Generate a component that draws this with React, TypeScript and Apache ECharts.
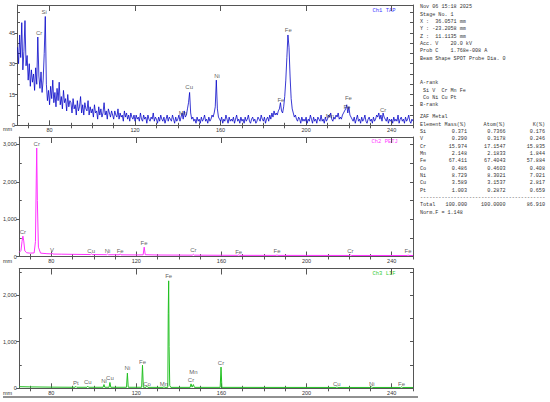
import React, { useEffect, useRef } from 'react';
import * as echarts from 'echarts';

// ---------- axes ----------
const X_MIN = 65;
const X_MAX = 250;
const X_LABELS = [80, 120, 160, 200, 240];
const X_MINOR = [70, 90, 100, 110, 130, 140, 150, 170, 180, 190, 210, 220, 230, 250];

const TAP_MAX = 58.6;
const TAP_Y_LABELS = [0, 15, 30, 45];
const TAP_Y_MINOR = [5, 10, 20, 25, 35, 40, 50, 55];

const PETJ_MAX = 3200;
const PETJ_Y_LABELS = [0, 1000, 2000, 3000];
const PETJ_Y_MINOR = [500, 1500, 2500];

const LIF_MAX = 2570;
const LIF_Y_LABELS = [0, 1000, 2000];
const LIF_Y_MINOR = [500, 1500, 2500];

// ---------- Ch1 TAP spectrum (counts every 0.5 mm from 65 mm) ----------
const TAP_START = 65;
const TAP_STEP = 0.5;
const TAP_COUNTS = [
  38, 30, 44, 33, 50, 27, 36, 51, 29, 34,
  22, 30, 19, 27, 21, 25, 17, 28, 20, 43, 24, 18, 26, 16, 22, 35, 53, 20, 12, 17,
  10, 19, 13, 22, 11, 16, 9, 18, 12, 21, 10, 14, 8, 17, 11, 13, 7, 15, 9, 12,
  11, 6, 13, 8, 10, 5, 12, 7, 9, 14, 6, 10, 5, 11, 8, 7, 12, 5, 9, 6,
  8, 4, 10, 6, 7, 3, 9, 5, 8, 4, 6, 11, 5, 7, 3, 8, 6, 4, 7, 5,
  3, 7, 5, 4, 8, 3, 6, 4, 5, 2, 7, 4, 6, 3, 5, 2, 6, 4, 3, 5,
  2, 5, 3, 4, 2, 6, 3, 2, 5, 3, 4, 1, 5, 3, 2, 4, 3, 6, 2, 4,
  3, 1, 4, 2, 5, 3, 2, 4, 1, 3, 5, 2, 4, 3, 2, 5, 3, 1, 4, 2,
  3, 5, 2, 4, 6, 3, 7, 4, 5, 8, 11, 16, 6, 3, 4, 2, 3, 1, 4, 2,
  3, 1, 4, 2, 3, 5, 2, 3, 1, 4, 2, 3, 5, 4, 6, 9, 22, 8, 4, 3,
  2, 4, 1, 3, 2, 5, 3, 1, 4, 2, 3, 2, 4, 1, 3, 5, 2, 3, 1, 4,
  2, 3, 1, 4, 2, 3, 5, 2, 1, 3, 4, 2, 3, 1, 2, 4, 3, 2, 5, 3,
  2, 4, 1, 3, 4, 2, 5, 3, 6, 4, 7, 5, 6, 5, 7, 8, 11, 7, 6, 9,
  14, 22, 33, 44, 38, 24, 13, 8, 6, 4, 5, 3, 2, 4, 3, 1, 4, 2, 3, 2,
  4, 1, 3, 2, 5, 3, 1, 4, 2, 3, 1, 4, 3, 2, 5, 2, 3, 1, 4, 2,
  3, 5, 4, 6, 3, 2, 4, 3, 5, 4, 6, 3, 4, 3, 5, 6, 7, 8, 10, 6,
  9, 5, 4, 3, 2, 4, 1, 3, 5, 2, 3, 1, 4, 2, 3, 5, 2, 1, 3, 4,
  2, 3, 1, 4, 2, 3, 5, 4, 6, 3, 5, 2, 6, 4, 3, 2, 4, 1, 3, 2,
  3, 1, 4, 2, 3, 2, 5, 1, 3, 4, 2, 3, 1, 4, 2, 3, 5, 2, 1, 3,
  2,
];

// ---------- Ch2 PETJ spectrum [mm, counts] ----------
const PETJ_SPECTRUM: [number, number][] = [
  [65, 110], [65.8, 160], [66.3, 400], [66.7, 545], [67.1, 420], [67.6, 150], [68.5, 100],
  [70, 90], [72, 95], [72.6, 400], [73.0, 2100], [73.2, 2905], [73.5, 1500], [74.0, 250],
  [75, 90], [78, 75], [80, 70], [80.4, 90], [80.8, 65], [85, 62], [90, 58],
  [98.5, 52], [98.9, 72], [99.3, 52], [106.1, 48], [106.5, 68], [106.9, 48],
  [112.0, 46], [112.4, 72], [112.8, 45], [120, 42], [123.2, 45], [123.7, 250], [124.2, 48],
  [130, 40], [146.3, 36], [146.8, 60], [147.3, 36], [160, 33], [167.7, 31], [168.1, 45], [168.5, 31],
  [185.7, 30], [186.1, 44], [186.5, 30], [200, 29], [220.2, 28], [220.6, 42], [221.0, 28],
  [247.3, 27], [247.7, 40], [248.1, 27], [250, 27],
];

// ---------- Ch3 LIF spectrum [mm, counts] ----------
const LIF_SPECTRUM: [number, number][] = [
  [65, 35], [70, 30], [80, 25], [91.2, 22], [91.6, 40], [92.0, 22], [96.8, 22], [97.2, 45], [97.6, 22],
  [104.4, 22], [104.8, 80], [105.2, 22], [107.2, 22], [107.6, 125], [108.0, 22],
  [115.4, 22], [115.8, 325], [116.2, 22], [122.5, 22], [122.9, 495], [123.3, 22],
  [124.6, 22], [125.0, 45], [125.4, 20], [132.6, 20], [133.0, 35], [133.4, 20],
  [134.8, 20], [135.0, 1600], [135.2, 2305], [135.4, 900], [135.7, 60], [136.2, 20],
  [145.3, 20], [145.7, 95], [146.2, 25], [146.8, 80], [147.3, 20],
  [159.4, 20], [159.8, 455], [160.2, 20], [214.0, 18], [214.2, 32], [214.6, 18],
  [230.2, 18], [230.6, 30], [231.0, 18], [244.2, 18], [244.6, 30], [245.0, 18], [250, 18],
];

// ---------- peak labels [element, mm, counts] ----------
const TAP_PEAKS: [string, number, number][] = [
  ['Si', 77.5, 53], ['Cr', 75.1, 43], ['Mn', 142.4, 4], ['Cu', 145.3, 16.5], ['Ni', 158.3, 22],
  ['Fe', 188.2, 10.5], ['Fe', 191.7, 44.5], ['Mn', 211.1, 2.5], ['Fe', 219.8, 11.5],
  ['Fe', 219.1, 7], ['Cr', 236, 5.5],
];
const PETJ_PEAKS: [string, number, number][] = [
  ['Cr', 66.7, 545], ['Cr', 73.2, 2900], ['V', 80.4, 67], ['Cu', 98.8, 48], ['Ni', 106.5, 48],
  ['Fe', 112.4, 48], ['Fe', 123.6, 260], ['Cr', 146.8, 75], ['Fe', 168.1, 25], ['Fe', 186.1, 30],
  ['Cr', 220.6, 30], ['Fe', 247.7, 30],
];
const LIF_PEAKS: [string, number, number][] = [
  ['Pt', 91.6, 21], ['Cu', 97.2, 43], ['Ni', 104.8, 71], ['Cu', 107.6, 142], ['Ni', 115.8, 343],
  ['Fe', 122.9, 485], ['Co', 125.0, 13], ['Mn', 133.0, 13], ['Fe', 135.2, 2320], ['Mn', 146.8, 258],
  ['Cr', 145.7, 99], ['Cr', 159.8, 457], ['Cu', 214.2, 8], ['Ni', 230.6, 8], ['Fe', 244.6, 8],
];

// ---------- side text ----------
const INFO_LINES = [
  'Nov 06 15:18 2025',
  'Stage No. 1',
  'X :  36.0571 mm',
  'Y : -23.2058 mm',
  'Z :  11.1135 mm',
  'Acc. V    20.0 kV',
  'Prob C    1.768e-008 A',
  'Beam Shape SPOT Probe Dia. 0',
];
const RANK_LINES = ['A-rank', ' Si V  Cr Mn Fe', ' Co Ni Cu Pt', 'B-rank'];
const ELEMENTS = ['Si', 'V', 'Cr', 'Mn', 'Fe', 'Co', 'Ni', 'Cu', 'Pt'];
const MASS = ['0.371', '0.290', '15.974', '2.148', '67.411', '0.486', '8.729', '3.589', '1.003'];
const ATOM = ['0.7366', '0.3178', '17.1547', '2.1833', '67.4043', '0.4603', '8.3021', '3.1537', '0.2872'];
const KRATIO = ['0.176', '0.246', '15.835', '1.844', '57.884', '0.408', '7.021', '2.817', '0.659'];
const TOTAL = ['100.000', '100.0000', '86.910'];

const AXIS_COLOR = '#555';
const LABEL_COLOR = '#333';
const MONO = '"Liberation Mono", "DejaVu Sans Mono", monospace';
const SANS = '"Liberation Sans", Arial, sans-serif';

function xAxesFor(grid: number) {
  const base = {
    gridIndex: grid, type: 'value', min: X_MIN, max: X_MAX,
    splitLine: { show: false },
  };
  const ls = { color: AXIS_COLOR, width: 1 };
  return [
    { ...base, position: 'bottom',
      axisLine: { show: true, onZero: false, lineStyle: ls },
      axisTick: { show: true, inside: true, length: 5, customValues: X_LABELS, lineStyle: ls },
      axisLabel: { show: true, customValues: X_LABELS, fontSize: 5.5, color: LABEL_COLOR, margin: 1.5, fontFamily: SANS } },
    { ...base, position: 'bottom',
      axisLine: { show: false },
      axisTick: { show: true, inside: true, length: 2.5, customValues: X_MINOR, lineStyle: ls },
      axisLabel: { show: false } },
    { ...base, position: 'top',
      axisLine: { show: true, onZero: false, lineStyle: ls },
      axisTick: { show: true, inside: true, length: 6, customValues: X_LABELS, lineStyle: ls },
      axisLabel: { show: false } },
    { ...base, position: 'top',
      axisLine: { show: false },
      axisTick: { show: true, inside: true, length: 3, customValues: X_MINOR, lineStyle: ls },
      axisLabel: { show: false } },
  ];
}

function yAxesFor(grid: number, max: number, labels: number[], minor: number[]) {
  const base = { gridIndex: grid, type: 'value', min: 0, max, splitLine: { show: false } };
  const ls = { color: AXIS_COLOR, width: 1 };
  const all = [...labels, ...minor].filter((v) => v > 0).sort((a, b) => a - b);
  return [
    { ...base, position: 'left',
      axisLine: { show: true, onZero: false, lineStyle: ls },
      axisTick: { show: true, inside: false, length: 3, customValues: labels, lineStyle: ls },
      axisLabel: { show: true, customValues: labels, fontSize: 5.5, color: LABEL_COLOR, margin: 2.5, fontFamily: SANS } },
    { ...base, position: 'left',
      axisLine: { show: false },
      axisTick: { show: true, inside: true, length: 2.5, customValues: minor, lineStyle: ls },
      axisLabel: { show: false } },
    { ...base, position: 'right',
      axisLine: { show: true, onZero: false, lineStyle: ls },
      axisTick: { show: true, inside: true, length: 3, customValues: all, lineStyle: ls },
      axisLabel: { show: false } },
  ];
}

function peakSeries(grid: number, peaks: [string, number, number][]) {
  return {
    type: 'scatter', xAxisIndex: grid * 4, yAxisIndex: grid * 3, silent: true,
    symbolSize: 1, itemStyle: { color: 'rgba(0,0,0,0)' },
    data: peaks.map((p) => [p[1], p[2], p[0]]),
    label: { show: true, position: 'top', distance: 0.5, fontSize: 6, color: LABEL_COLOR, fontFamily: SANS,
      formatter: (p: any) => p.data[2] },
    z: 5,
  };
}

export default function App() {
  const ref = useRef<HTMLDivElement>(null);
  useEffect(() => {
    if (!ref.current) return;
    const chart = echarts.init(ref.current, undefined, { renderer: 'svg' });

    const tapData = TAP_COUNTS.map((v, i) => [TAP_START + i * TAP_STEP, v]);

    const graphic: any[] = [];
    const txt = (text: string, x: number, y: number, opts: any = {}) => graphic.push({
      type: 'text', x, y, silent: true,
      style: { text, fontSize: 5.1, fontFamily: MONO, fill: '#333', textVerticalAlign: 'middle',
        verticalAlign: 'middle', ...opts },
    });

    // channel names
    txt('Ch1 TAP', 372.5, 10, { fill: '#3a3aff', fontSize: 5.5 });
    txt('Ch2 PETJ', 371.5, 141.5, { fill: '#ff3cff', fontSize: 5.5 });
    txt('Ch3 LIF', 372.5, 273, { fill: '#33cc33', fontSize: 5.5 });
    // mm units
    [129, 261, 392.5].forEach((y) => txt('mm', 3, y, { fontFamily: SANS, fill: LABEL_COLOR, fontSize: 5.5 }));

    // info block
    const LX = 420;
    const STEP = 7.33;
    INFO_LINES.forEach((t, i) => txt(t, LX, 7.3 + i * STEP));
    RANK_LINES.forEach((t, i) => txt(t, LX, 83.3 + i * STEP));
    txt('ZAF Metal', LX, 117.3);
    txt('Element', LX, 124.7);
    txt('Mass(%)', 466, 124.7, { align: 'right', textAlign: 'right' });
    txt('Atom(%)', 505, 124.7, { align: 'right', textAlign: 'right' });
    txt('K(%)', 545, 124.7, { align: 'right', textAlign: 'right' });
    ELEMENTS.forEach((el, i) => {
      const y = 132 + i * STEP;
      txt(el, LX, y);
      txt(MASS[i], 467, y, { align: 'right', textAlign: 'right' });
      txt(ATOM[i], 505.5, y, { align: 'right', textAlign: 'right' });
      txt(KRATIO[i], 545, y, { align: 'right', textAlign: 'right' });
    });
    txt('-----------------------------------------', LX, 132 + 9 * STEP);
    const ty = 132 + 10 * STEP;
    txt('Total', LX, ty);
    txt(TOTAL[0], 467, ty, { align: 'right', textAlign: 'right' });
    txt(TOTAL[1], 505.5, ty, { align: 'right', textAlign: 'right' });
    txt(TOTAL[2], 545, ty, { align: 'right', textAlign: 'right' });
    txt('Norm.F = 1.148', LX, 132 + 11 * STEP);

    graphic.push({
      type: 'line', silent: true,
      shape: { x1: 3, y1: 397, x2: 418, y2: 397 },
      style: { stroke: '#222', lineWidth: 1 },
    });

    const option: any = {
      animation: false,
      backgroundColor: '#ffffff',
      grid: [
        { left: 17.5, top: 5, width: 395.5, height: 120.3 },
        { left: 17.5, top: 137, width: 395.5, height: 119.5 },
        { left: 17.5, top: 268.5, width: 395.5, height: 119.8 },
      ],
      xAxis: [...xAxesFor(0), ...xAxesFor(1), ...xAxesFor(2)],
      yAxis: [
        ...yAxesFor(0, TAP_MAX, TAP_Y_LABELS, TAP_Y_MINOR),
        ...yAxesFor(1, PETJ_MAX, PETJ_Y_LABELS, PETJ_Y_MINOR),
        ...yAxesFor(2, LIF_MAX, LIF_Y_LABELS, LIF_Y_MINOR),
      ],
      series: [
        { type: 'line', xAxisIndex: 0, yAxisIndex: 0, data: tapData, symbol: 'none', silent: true,
          lineStyle: { color: '#0606c8', width: 0.8 } },
        { type: 'line', xAxisIndex: 4, yAxisIndex: 3, data: PETJ_SPECTRUM, symbol: 'none', silent: true,
          lineStyle: { color: '#ff30ff', width: 1 } },
        { type: 'line', xAxisIndex: 8, yAxisIndex: 6, data: LIF_SPECTRUM, symbol: 'none', silent: true,
          lineStyle: { color: '#22c022', width: 1 } },
        peakSeries(0, TAP_PEAKS),
        peakSeries(1, PETJ_PEAKS),
        peakSeries(2, LIF_PEAKS),
      ],
      graphic,
    };
    chart.setOption(option);
    return () => chart.dispose();
  }, []);

  return (
    <div
      ref={ref}
      style={{ position: 'fixed', left: 0, top: 0, width: 550, height: 402, background: '#fff' }}
    />
  );
}
